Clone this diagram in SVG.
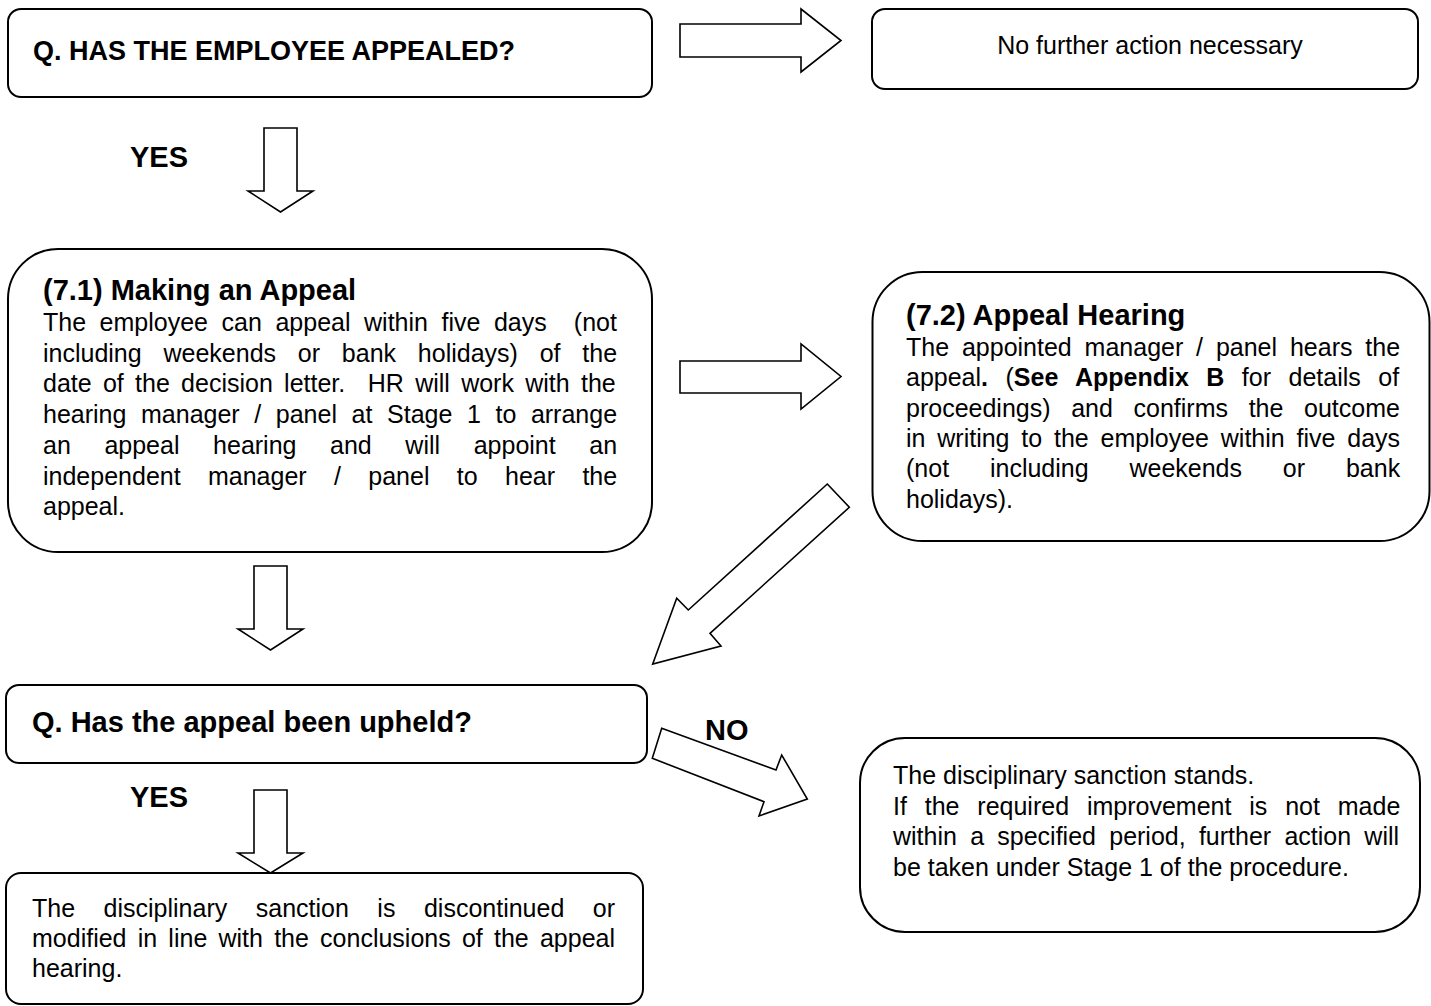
<svg xmlns="http://www.w3.org/2000/svg" width="1431" height="1006" viewBox="0 0 1431 1006">
<style>
.box{fill:#fff;stroke:#000;stroke-width:2}
.arr{fill:#fff;stroke:#000;stroke-width:1.6;stroke-linejoin:miter}
text{font-family:"Liberation Sans",Arial,sans-serif;fill:#000}
.b{font-weight:bold;font-size:29px}
.t{font-size:25px}
.bb{font-weight:bold}
</style>
<rect width="1431" height="1006" fill="#fff"/>
<g id="connectors">
<polygon class="arr" points="680,24 801,24 801,9 841,40.5 801,72 801,57 680,57"/>
<polygon class="arr" points="264,128 297,128 297,191 313,191 280.5,212 248,191 264,191"/>
<polygon class="arr" points="680,361 801,361 801,344 841,376.5 801,409 801,393 680,393"/>
<polygon class="arr" points="827.3,484 849.3,507.3 710,633.3 721,646 652.7,664 676.7,598.3 688.3,610"/>
<polygon class="arr" points="254,566 287,566 287,629 303,629 270.5,650 238,629 254,629"/>
<polygon class="arr" points="661.7,728.3 776,770 781.7,755 807.3,799 759,816 764,801.7 652.3,758.3"/>
<polygon class="arr" points="254,790 287,790 287,853 303,853 270.5,873 238,853 254,853"/>
<text class="b" x="130" y="167">YES</text>
<text class="b" x="705" y="740">NO</text>
<text class="b" x="130" y="807">YES</text>
</g>
<g id="q-appealed">
<rect class="box" x="8" y="9" width="644" height="88" rx="13"/>
<text class="b" x="33" y="60" style="font-size:27px">Q. HAS THE EMPLOYEE APPEALED?</text>
</g>
<g id="no-action">
<rect class="box" x="872" y="9" width="546" height="80" rx="13"/>
<text class="t" x="1150" y="54" text-anchor="middle">No further action necessary</text>
</g>
<g id="making-appeal">
<rect class="box" x="8" y="249" width="644" height="303" rx="50"/>
<text class="b" x="43" y="300">(7.1) Making an Appeal</text>
<text class="t" x="43" y="331" xml:space="preserve" word-spacing="6.6">The employee can appeal within five days  (not</text>
<text class="t" x="43" y="361.7" word-spacing="14.84">including weekends or bank holidays) of the</text>
<text class="t" x="43" y="392.4" xml:space="preserve" word-spacing="4.33">date of the decision letter.  HR will work with the</text>
<text class="t" x="43" y="423.1" word-spacing="7.65">hearing manager / panel at Stage 1 to arrange</text>
<text class="t" x="43" y="453.8" word-spacing="26.65">an appeal hearing and will appoint an</text>
<text class="t" x="43" y="484.5" word-spacing="20.4">independent manager / panel to hear the</text>
<text class="t" x="43" y="515.2">appeal.</text>
</g>
<g id="appeal-hearing">
<rect class="box" x="872.5" y="272" width="557" height="269" rx="50"/>
<text class="b" x="906" y="325">(7.2) Appeal Hearing</text>
<text class="t" x="906" y="356" word-spacing="5.9">The appointed manager / panel hears the</text>
<text class="t" x="906" y="386.3" word-spacing="10.55">appeal<tspan class="bb">.</tspan> (<tspan class="bb">See Appendix B</tspan> for details of</text>
<text class="t" x="906" y="416.6" word-spacing="13.7">proceedings) and confirms the outcome</text>
<text class="t" x="906" y="446.9" word-spacing="4.87">in writing to the employee within five days</text>
<text class="t" x="906" y="477.2" word-spacing="33.9">(not including weekends or bank</text>
<text class="t" x="906" y="507.5">holidays).</text>
</g>
<g id="q-upheld">
<rect class="box" x="6" y="685" width="641" height="78" rx="13"/>
<text class="b" x="32" y="732">Q. Has the appeal been upheld?</text>
</g>
<g id="sanction-modified">
<rect class="box" x="6" y="873" width="637" height="131" rx="15"/>
<text class="t" x="32" y="917" word-spacing="21.56">The disciplinary sanction is discontinued or</text>
<text class="t" x="32" y="947" word-spacing="4.26">modified in line with the conclusions of the appeal</text>
<text class="t" x="32" y="977">hearing.</text>
</g>
<g id="sanction-stands">
<rect class="box" x="860" y="738" width="560" height="194" rx="45"/>
<text class="t" x="893" y="784">The disciplinary sanction stands.</text>
<text class="t" x="893" y="814.5" word-spacing="10.9">If the required improvement is not made</text>
<text class="t" x="893" y="845" word-spacing="6.3">within a specified period, further action will</text>
<text class="t" x="893" y="875.5">be taken under Stage 1 of the procedure.</text>
</g>
</svg>
